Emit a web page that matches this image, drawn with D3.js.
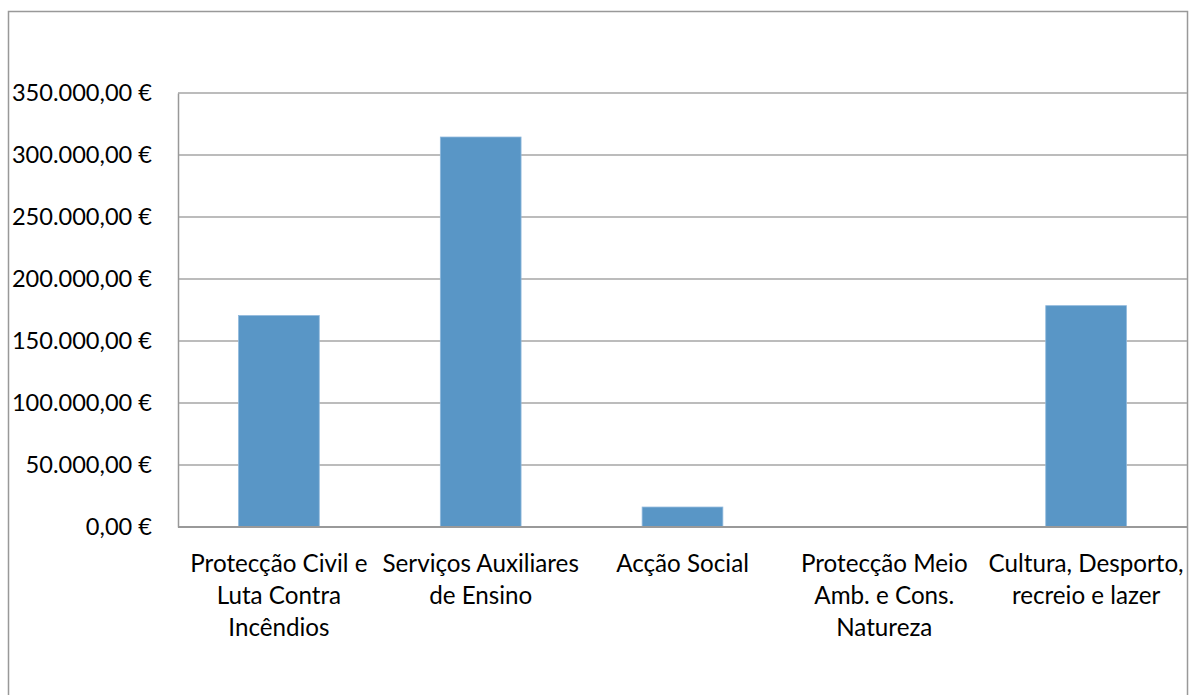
<!DOCTYPE html>
<html>
<head>
<meta charset="utf-8">
<script src="https://cdn.jsdelivr.net/npm/d3@7"></script>
<style>
  body { margin: 0; background: #fff; }
  svg text { font-family: Lato, "Open Sans", sans-serif; fill: #000; }
</style>
</head>
<body>
<div id="chart"></div>
<script>
// categories, one array of lines per label (wrapped as in the original)
var categories = [
    "Protecção Civil e Luta Contra Incêndios",
    "Serviços Auxiliares de Ensino",
    "Acção Social",
    "Protecção Meio Amb. e Cons. Natureza",
    "Cultura, Desporto, recreio e lazer"
];
var labelLines = [
    ["Protecção Civil e", "Luta Contra", "Incêndios"],
    ["Serviços Auxiliares", "de Ensino"],
    ["Acção Social"],
    ["Protecção Meio", "Amb. e Cons.", "Natureza"],
    ["Cultura, Desporto,", "recreio e lazer"]
];
var values = [170500, 314500, 16100, 0, 178500];
var yTicks = [0, 50000, 100000, 150000, 200000, 250000, 300000, 350000];

// set the dimensions and margins of the graph
var margin = {top: 93, right: 2, bottom: 168, left: 178},
    width = 1189 - margin.left - margin.right,
    height = 695 - margin.top - margin.bottom;

var locale = d3.formatLocale({decimal: ",", thousands: ".", grouping: [3], currency: ["", " €"]});
var fmt = locale.format("$,.2f");

var root = d3.select("#chart")
    .append("svg")
    .attr("width", 1189)
    .attr("height", 695);

// outer chart frame
root.append("rect")
    .attr("x", 8.5)
    .attr("y", 11.5)
    .attr("width", 1179)
    .attr("height", 700)
    .attr("fill", "none")
    .attr("stroke", "#999")
    .attr("stroke-width", 1.5);

var svg = root.append("g")
    .attr("transform", "translate(" + margin.left + "," + margin.top + ")");

var x = d3.scaleBand()
    .domain(categories)
    .range([0, width])
    .paddingInner(0.6)
    .paddingOuter(0.3);

var y = d3.scaleLinear()
    .domain([0, 350000])
    .range([height, 0]);

// gridlines
svg.append("g")
    .selectAll("line")
    .data(yTicks.filter(function (d) { return d > 0; }))
    .enter().append("line")
    .attr("x1", 0)
    .attr("x2", width)
    .attr("y1", function (d) { return y(d); })
    .attr("y2", function (d) { return y(d); })
    .attr("stroke", "#a6a6a6")
    .attr("stroke-width", 1.5);

// Y axis
var yAxis = svg.append("g")
    .call(d3.axisLeft(y).tickValues(yTicks).tickFormat(fmt).tickSize(0).tickPadding(26));
yAxis.select(".domain").attr("stroke", "#999").attr("stroke-width", 1.5);
yAxis.selectAll("text").style("font-size", "23.6px");

// bars
svg.selectAll(".bar")
    .data(values)
    .enter().append("rect")
    .attr("class", "bar")
    .attr("x", function (d, i) { return x(categories[i]); })
    .attr("width", x.bandwidth())
    .attr("y", function (d) { return y(d); })
    .attr("height", function (d) { return height - y(d); })
    .attr("fill", "#5996c6")
    .attr("stroke", "#8fb8dc")
    .attr("stroke-width", 0.8);

// X axis line
svg.append("line")
    .attr("x1", 0)
    .attr("x2", width)
    .attr("y1", height)
    .attr("y2", height)
    .attr("stroke", "#999")
    .attr("stroke-width", 2);

// category labels
var lab = svg.append("g")
    .selectAll("text")
    .data(categories)
    .enter().append("text")
    .attr("text-anchor", "middle")
    .style("font-size", "24.2px")
    .attr("transform", function (d) {
        return "translate(" + (x(d) + x.bandwidth() / 2) + "," + (height + 45) + ")";
    });

lab.selectAll("tspan")
    .data(function (d, i) { return labelLines[i]; })
    .enter().append("tspan")
    .attr("x", 0)
    .attr("dy", function (d, j) { return j === 0 ? 0 : 32; })
    .text(function (d) { return d; });
</script>
</body>
</html>
